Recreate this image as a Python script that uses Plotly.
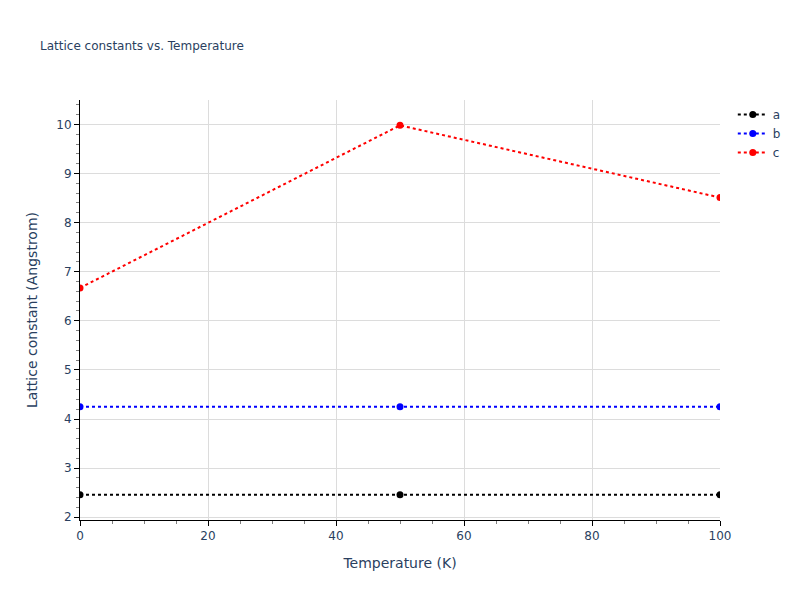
import plotly.graph_objects as go

temperature = [0, 50, 100]
a_values = [2.46, 2.46, 2.46]
b_values = [4.25, 4.25, 4.25]
c_values = [6.67, 9.98, 8.51]

fig = go.Figure()
for name, vals, color in [('a', a_values, 'black'), ('b', b_values, 'blue'), ('c', c_values, 'red')]:
    fig.add_trace(go.Scatter(
        x=temperature, y=vals, name=name, mode='lines+markers',
        line=dict(color=color, dash='dot', width=2),
        marker=dict(color=color, size=7),
    ))

axis_style = dict(
    showline=True, linecolor='black', linewidth=1,
    ticks='outside', tickcolor='black',
    showgrid=True, gridcolor='#dcdcdc',
    minor=dict(ticks='outside', tickcolor='gray', showgrid=False),
    zeroline=False,
)

fig.update_layout(
    template='plotly_white',
    font=dict(family='DejaVu Sans'),
    title=dict(text='Lattice constants vs. Temperature', font=dict(size=12)),
    xaxis=dict(title='Temperature (K)', range=[0, 100], **axis_style),
    yaxis=dict(title='Lattice constant (Angstrom)', **axis_style),
    width=800, height=600,
)

fig.write_html("out.html", config={'displayModeBar': False},
               post_script="document.body.style.margin='0';")
